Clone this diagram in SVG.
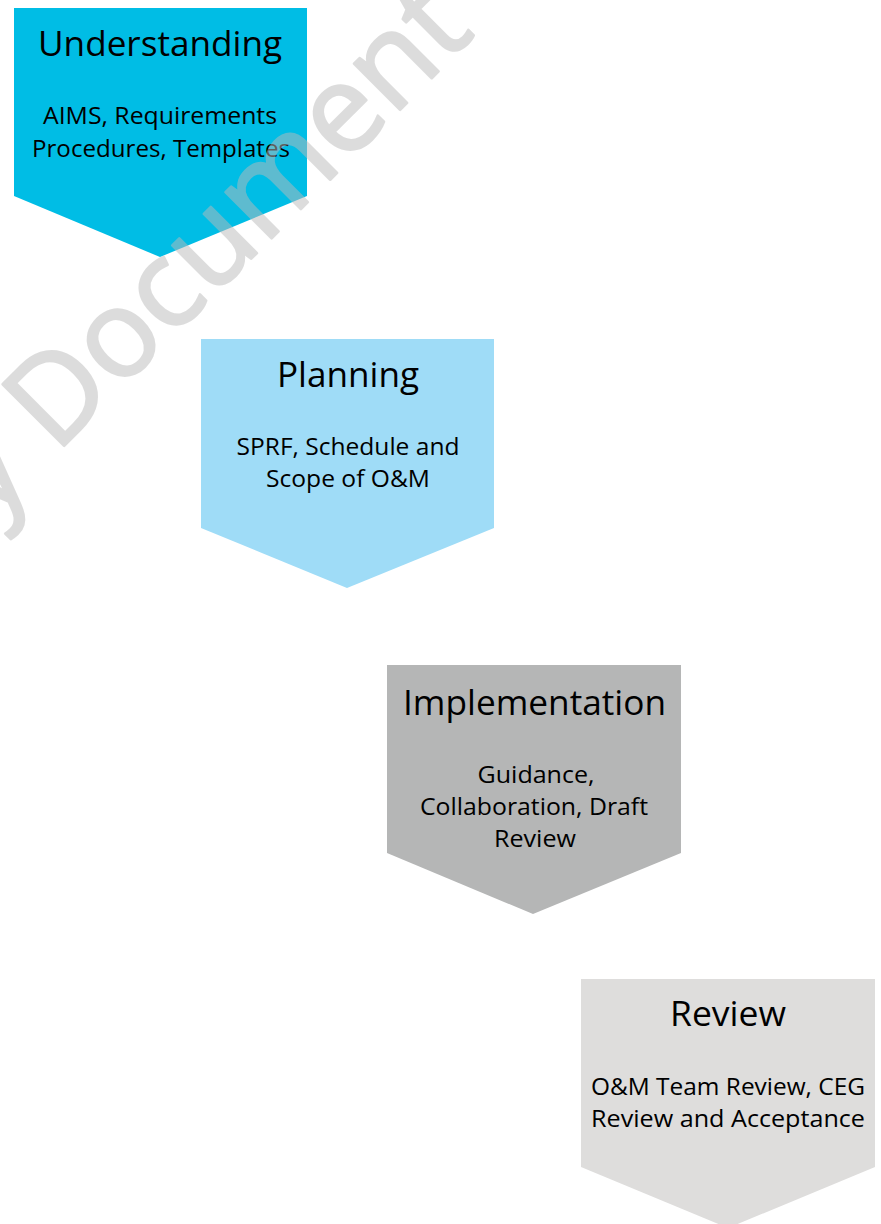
<svg xmlns="http://www.w3.org/2000/svg" width="881" height="1224" viewBox="0 0 881 1224">
<style>
  .title { font-family: "Open Sans", "Noto Sans", "Liberation Sans", sans-serif; font-size: 34px; fill: #000; text-anchor: middle; }
  .sub { font-family: "Open Sans", "Noto Sans", "Liberation Sans", sans-serif; font-size: 23px; fill: #000; text-anchor: middle; }
  .wm { font-family: "Open Sans", "Noto Sans", "Liberation Sans", sans-serif; font-size: 122px; fill: #BBBBBB; stroke: #BBBBBB; stroke-width: 2.5; stroke-linejoin: round; }
</style>
<rect width="881" height="1224" fill="#FFFFFF"/>
<g id="connectors"></g>
<g id="node-understanding">
  <polygon points="14,8 307,8 307,196 160,257 14,196" fill="#00BDE5"/>
  <text class="title" x="160" y="56" textLength="244" lengthAdjust="spacingAndGlyphs">Understanding</text>
  <text class="sub" x="160" y="124" textLength="234" lengthAdjust="spacingAndGlyphs">AIMS, Requirements</text>
  <text class="sub" x="161" y="157" textLength="258" lengthAdjust="spacingAndGlyphs">Procedures, Templates</text>
</g>
<g id="node-planning">
  <polygon points="201,339 494,339 494,528 347,588 201,528" fill="#9FDCF7"/>
  <text class="title" x="348" y="387" textLength="142" lengthAdjust="spacingAndGlyphs">Planning</text>
  <text class="sub" x="348" y="455" textLength="223" lengthAdjust="spacingAndGlyphs">SPRF, Schedule and</text>
  <text class="sub" x="348" y="487" textLength="164" lengthAdjust="spacingAndGlyphs">Scope of O&amp;M</text>
</g>
<g id="node-implementation">
  <polygon points="387,665 681,665 681,853 533,914 387,853" fill="#B5B6B6"/>
  <text class="title" x="534.5" y="715" textLength="263" lengthAdjust="spacingAndGlyphs">Implementation</text>
  <text class="sub" x="536" y="783" textLength="117" lengthAdjust="spacingAndGlyphs">Guidance,</text>
  <text class="sub" x="534" y="815" textLength="228" lengthAdjust="spacingAndGlyphs">Collaboration, Draft</text>
  <text class="sub" x="535" y="847" textLength="82" lengthAdjust="spacingAndGlyphs">Review</text>
</g>
<g id="node-review">
  <polygon points="581,979 875,979 875,1167 728,1228 581,1167" fill="#DEDDDC"/>
  <text class="title" x="728" y="1026" textLength="116" lengthAdjust="spacingAndGlyphs">Review</text>
  <text class="sub" x="728" y="1095" textLength="274" lengthAdjust="spacingAndGlyphs">O&amp;M Team Review, CEG</text>
  <text class="sub" x="728" y="1127" textLength="274" lengthAdjust="spacingAndGlyphs">Review and Acceptance</text>
</g>
<g id="watermark" opacity="0.5">
  <text class="wm" transform="translate(-10,520) rotate(-45)">y Document</text>
</g>
</svg>
